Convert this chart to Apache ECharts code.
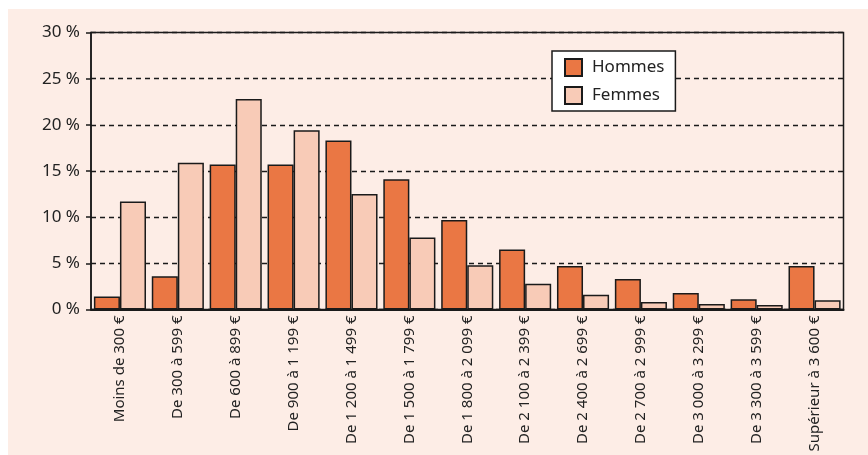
<!DOCTYPE html>
<html><head><meta charset="utf-8">
<script src="https://cdn.jsdelivr.net/npm/echarts@6/dist/echarts.min.js"></script>
<style>
html,body{margin:0;padding:0;background:#fff;}
#bg{position:absolute;left:8px;top:9px;width:860px;height:446px;background:#FDEDE6;}
#chart{position:absolute;left:0;top:0;width:868px;height:455px;}
</style></head>
<body>
<div id="bg"></div>
<div id="chart"></div>
<script>
const categories = ['Moins de 300 €','De 300 à 599 €','De 600 à 899 €','De 900 à 1 199 €','De 1 200 à 1 499 €','De 1 500 à 1 799 €','De 1 800 à 2 099 €','De 2 100 à 2 399 €','De 2 400 à 2 699 €','De 2 700 à 2 999 €','De 3 000 à 3 299 €','De 3 300 à 3 599 €','Supérieur à 3 600 €'];
const hommes = [1.4, 3.6, 15.7, 15.7, 18.3, 14.1, 9.7, 6.5, 4.7, 3.3, 1.8, 1.1, 4.7];
const femmes = [11.7, 15.9, 22.8, 19.4, 12.5, 7.8, 4.8, 2.8, 1.6, 0.8, 0.6, 0.5, 1.0];
const yTicks = [0, 5, 10, 15, 20, 25, 30];

const FONT = 'Noto Sans';
const chart = echarts.init(document.getElementById('chart'), null, {renderer:'canvas'});
chart.setOption({
  backgroundColor: 'transparent',
  animation: false,
  textStyle: {fontFamily: FONT},
  grid: {left: 91, right: 24.5, top: 32.5, bottom: 145.5, show: true, borderColor: '#1a1a1a', borderWidth: 1.5, backgroundColor: 'transparent'},
  legend: {
    orient: 'vertical', left: 552, top: 51,
    icon: 'rect',
    itemWidth: 17, itemHeight: 17, itemGap: 9,
    padding: [7, 11, 6, 12],
    backgroundColor: '#fff', borderColor: '#1a1a1a', borderWidth: 1.5, borderRadius: 0,
    textStyle: {fontSize: 17, color: '#222', fontFamily: FONT, padding: [0,0,0,5]},
    data: ['Hommes', 'Femmes']
  },
  xAxis: {
    type: 'category', data: categories,
    axisLine: {show: true, lineStyle: {color: '#1a1a1a', width: 2}},
    axisTick: {show: false},
    axisLabel: {rotate: 90, fontSize: 15, color: '#222', margin: 6, interval: 0, fontFamily: FONT}
  },
  yAxis: {
    type: 'value', min: yTicks[0], max: yTicks[yTicks.length-1], interval: 5,
    axisLine: {show: true, lineStyle: {color: '#1a1a1a', width: 1.5}},
    axisTick: {show: true, length: 5, lineStyle: {color: '#1a1a1a', width: 1.5}},
    axisLabel: {fontSize: 17, color: '#222', margin: 11, formatter: v => v + ' %', fontFamily: FONT},
    splitLine: {show: true, lineStyle: {color: '#1a1a1a', width: 1.3, type: [5, 4]}}
  },
  series: [
    {name: 'Hommes', type: 'bar', data: hommes, barGap: '0%', barCategoryGap: '10%',
     itemStyle: {color: '#EA7744', borderColor: '#1a1a1a', borderWidth: 1.5}},
    {name: 'Femmes', type: 'bar', data: femmes, barGap: '0%', barCategoryGap: '10%',
     itemStyle: {color: '#F8CBB7', borderColor: '#1a1a1a', borderWidth: 1.5}}
  ]
});
</script>
</body></html>
